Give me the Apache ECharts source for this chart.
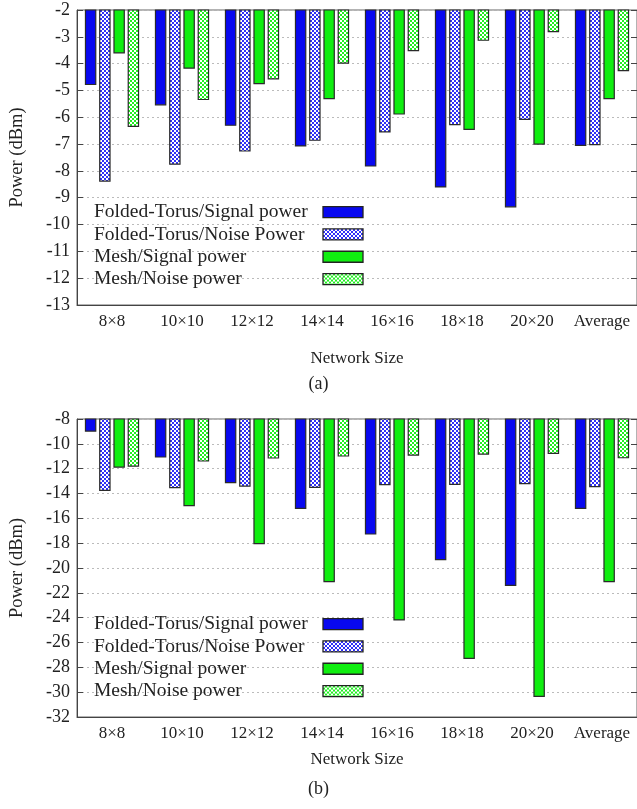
<!DOCTYPE html>
<html><head><meta charset="utf-8">
<script src="https://cdn.jsdelivr.net/npm/echarts@6/dist/echarts.min.js"></script>
<style>html,body{margin:0;padding:0;background:#fff}#c{width:637px;height:809px}</style>
</head><body><div id="c"></div>
<script>
const categories = ['8×8','10×10','12×12','14×14','16×16','18×18','20×20','Average'];
const seriesNames = ['Folded-Torus/Signal power','Folded-Torus/Noise Power','Mesh/Signal power','Mesh/Noise power'];
const aTorusSignal = [-4.80,-5.56,-6.32,-7.09,-7.84,-8.62,-9.36,-7.07];
const aTorusNoise  = [-8.40,-7.77,-7.28,-6.88,-6.57,-6.30,-6.10,-7.04];
const aMeshSignal  = [-3.62,-4.19,-4.77,-5.33,-5.90,-6.47,-7.02,-5.33];
const aMeshNoise   = [-6.36,-5.36,-4.59,-4.00,-3.54,-3.15,-2.83,-4.28];
const bTorusSignal = [-9.02,-11.11,-13.18,-15.24,-17.31,-19.38,-21.44,-15.24];
const bTorusNoise  = [-13.80,-13.58,-13.45,-13.55,-13.34,-13.31,-13.26,-13.50];
const bMeshSignal  = [-11.92,-15.03,-18.09,-21.15,-24.23,-27.32,-30.38,-21.15];
const bMeshNoise   = [-11.84,-11.43,-11.19,-11.03,-10.95,-10.87,-10.82,-11.17];
const aTicks = {min:-13, max:-2, interval:1};
const bTicks = {min:-32, max:-8, interval:2};

const FONT = '"Liberation Serif", "DejaVu Serif", serif';
const TXT = '#222';
const BLUE = '#0808f0';
const GREEN = '#10ee10';

function checker(col){
  const c = document.createElement('canvas');
  c.width = 4; c.height = 4;
  const g = c.getContext('2d');
  g.fillStyle = col; g.fillRect(0,0,4,4);
  g.fillStyle = '#ffffff';
  g.fillRect(0,0,2,2); g.fillRect(2,2,2,2);
  return {image: c, repeat: 'repeat'};
}
const fills = [BLUE, checker('#3030f8'), GREEN, checker('#22ee22')];

const grids = [
  {left:75, width:565, top:10, height:295, show:true, borderColor:'#666', borderWidth:1},
  {left:75, width:565, top:419, height:298, show:true, borderColor:'#666', borderWidth:1}
];

function xAx(i, gap){
  return {type:'category', gridIndex:i, data:categories,
    axisLine:{lineStyle:{color:'#444', width:1}},
    axisTick:{inside:true, length:5, alignWithLabel:true, lineStyle:{color:'#444'}},
    axisLabel:{fontFamily:FONT, fontSize:17, color:TXT, margin:8, interval:0},
    name:'Network Size', nameLocation:'middle', nameGap:gap,
    nameTextStyle:{fontFamily:FONT, fontSize:17, color:TXT}};
}
function yAx(i, t){
  return [{type:'value', gridIndex:i, min:t.min, max:t.max, interval:t.interval,
    axisLine:{show:true, lineStyle:{color:'#444'}},
    axisTick:{show:true, inside:true, length:6, lineStyle:{color:'#444'}},
    axisLabel:{fontFamily:FONT, fontSize:18, color:TXT, margin:7},
    splitLine:{show:true, lineStyle:{color:'#bbb', type:[2,3], width:1}},
    name:'Power (dBm)', nameLocation:'middle', nameGap:50, nameRotate:90,
    nameTextStyle:{fontFamily:FONT, fontSize:18.5, color:TXT}},
   {type:'value', gridIndex:i, position:'right', min:t.min, max:t.max, interval:t.interval,
    axisLine:{show:true, lineStyle:{color:'#444'}},
    axisTick:{show:true, inside:true, length:6, lineStyle:{color:'#444'}},
    axisLabel:{show:false}, splitLine:{show:false}}];
}

const dataA = [aTorusSignal, aTorusNoise, aMeshSignal, aMeshNoise];
const dataB = [bTorusSignal, bTorusNoise, bMeshSignal, bMeshNoise];
const series = [];
[dataA, dataB].forEach((set, gi) => {
  set.forEach((d, k) => {
    series.push({type:'bar', name:seriesNames[k], xAxisIndex:gi, yAxisIndex:gi*2, data:d,
      barWidth:11.5, barGap:'24%',
      itemStyle:{color:fills[k], borderColor:'#2a2a2a', borderWidth:1.2},
      emphasis:{disabled:true}, animation:false});
  });
});

function legend(top){
  return {orient:'vertical', left:94, top:top, align:'right', selectedMode:false, padding:0,
    icon:'rect', itemWidth:40, itemHeight:11, itemGap:2,
    formatter: n => '{t|' + n + '}',
    textStyle:{fontFamily:FONT, fontSize:19.5, color:TXT, lineHeight:20.3,
      rich:{t:{fontFamily:FONT, fontSize:19.5, color:TXT, width:224, align:'left', lineHeight:20.3}}},
    data:seriesNames.map(n => ({name:n, itemStyle:{borderColor:'#222', borderWidth:1.3}}))};
}

const chart = echarts.init(document.getElementById('c'), null, {renderer:'canvas'});
chart.setOption({
  animation:false,
  backgroundColor:'#fff',
  grid: grids,
  xAxis: [xAx(0, 45), xAx(1, 34)],
  yAxis: [...yAx(0, aTicks), ...yAx(1, bTicks)],
  legend: [legend(202), legend(614)],
  title: [
    {text:'(a)', left:'center', top:370, textStyle:{fontFamily:FONT, fontSize:18, fontWeight:'normal', color:TXT}},
    {text:'(b)', left:'center', top:775, textStyle:{fontFamily:FONT, fontSize:18, fontWeight:'normal', color:TXT}}
  ],
  series: series
});
</script></body></html>
